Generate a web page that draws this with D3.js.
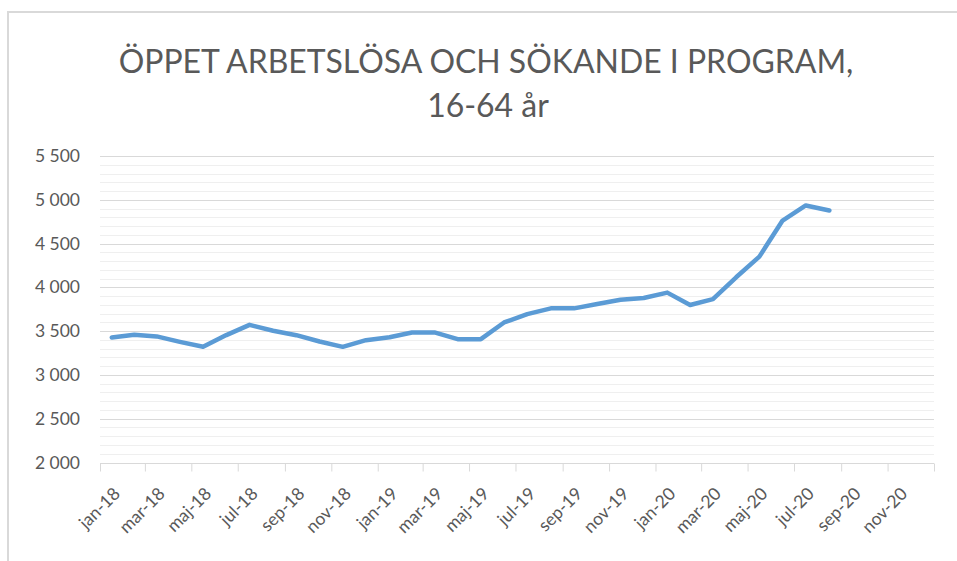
<!DOCTYPE html>
<html>
<head>
<meta charset="utf-8">
<script src="https://cdn.jsdelivr.net/npm/d3@7"></script>
<style>
  html, body { margin: 0; padding: 0; background: #ffffff; }
  svg { display: block; }
</style>
</head>
<body>
<svg id="chart" width="957" height="561"></svg>
<script>
// ---- data ----
const titleLines = ["ÖPPET ARBETSLÖSA OCH SÖKANDE I PROGRAM,", "16-64 år"];
const months = [
  "2018-01","2018-02","2018-03","2018-04","2018-05","2018-06","2018-07","2018-08","2018-09","2018-10","2018-11","2018-12",
  "2019-01","2019-02","2019-03","2019-04","2019-05","2019-06","2019-07","2019-08","2019-09","2019-10","2019-11","2019-12",
  "2020-01","2020-02","2020-03","2020-04","2020-05","2020-06","2020-07","2020-08"
];
const values = [
  3427, 3460, 3440, 3378, 3321, 3455, 3572, 3504, 3454, 3382, 3321, 3397,
  3430, 3485, 3485, 3408, 3408, 3599, 3695, 3760, 3760, 3809, 3859, 3878,
  3940, 3798, 3866, 4115, 4351, 4763, 4935, 4878
];
const tickMonths = [
  "2018-01","2018-03","2018-05","2018-07","2018-09","2018-11",
  "2019-01","2019-03","2019-05","2019-07","2019-09","2019-11",
  "2020-01","2020-03","2020-05","2020-07","2020-09","2020-11"
];
const tickLabels = [
  "jan-18","mar-18","maj-18","jul-18","sep-18","nov-18",
  "jan-19","mar-19","maj-19","jul-19","sep-19","nov-19",
  "jan-20","mar-20","maj-20","jul-20","sep-20","nov-20"
];
const yTicks = [2000, 2500, 3000, 3500, 4000, 4500, 5000, 5500];
const yMinorStep = 100;
const yDomain = [2000, 5500];
const xDomain = ["2018-01", "2021-01"];

// ---- setup ----
const svg = d3.select("#chart");
const W = 957, H = 561;
const plot = { left: 100, right: 934, top: 156, bottom: 462.5 };
const textColor = "#595959";
const fontFamily = "Lato, 'Open Sans', sans-serif";
const labelSize = 17.5;

const parseMonth = d3.timeParse("%Y-%m");
const midMonth = s => {
  const a = parseMonth(s);
  const b = d3.timeMonth.offset(a, 1);
  return new Date((a.getTime() + b.getTime()) / 2);
};

const x = d3.scaleTime()
  .domain(xDomain.map(parseMonth))
  .range([plot.left, plot.right]);
const y = d3.scaleLinear().domain(yDomain).range([plot.bottom, plot.top]);

// chart border
svg.append("rect")
  .attr("x", 8).attr("y", 12)
  .attr("width", W + 10).attr("height", H + 10)
  .attr("fill", "none").attr("stroke", "#d9d9d9").attr("stroke-width", 2);

// title
const title = svg.append("g").attr("font-family", fontFamily).attr("fill", textColor);
const t1 = title.append("text").attr("x", 486).attr("y", 73).attr("text-anchor", "middle")
  .attr("font-size", 31).text(titleLines[0]);
const targetW = 735;
const w1 = t1.node().getComputedTextLength();
const fs = 31 * targetW / w1;
t1.attr("font-size", fs);
title.append("text").attr("x", 488).attr("y", 117).attr("text-anchor", "middle")
  .attr("font-size", fs).text(titleLines[1]);

// minor gridlines
const minorVals = d3.range(yDomain[0] + yMinorStep, yDomain[1], yMinorStep).filter(v => v % 500 !== 0);
svg.append("g").selectAll("line").data(minorVals).join("line")
  .attr("x1", plot.left).attr("x2", plot.right)
  .attr("y1", d => Math.round(y(d)) + 0.5).attr("y2", d => Math.round(y(d)) + 0.5)
  .attr("stroke", "#efefef").attr("stroke-width", 1);

// major gridlines
svg.append("g").selectAll("line").data(yTicks.slice(1)).join("line")
  .attr("x1", plot.left).attr("x2", plot.right)
  .attr("y1", d => Math.round(y(d)) + 0.5).attr("y2", d => Math.round(y(d)) + 0.5)
  .attr("stroke", "#d9d9d9").attr("stroke-width", 1);

// y axis labels
const yAxis = d3.axisLeft(y).tickValues(yTicks).tickSize(0).tickPadding(0)
  .tickFormat(d => d3.format(",")(d).replace(",", " "));
const gy = svg.append("g").attr("transform", `translate(80,0)`).call(yAxis);
gy.select(".domain").remove();
gy.selectAll("text").attr("font-family", fontFamily).attr("font-size", labelSize)
  .attr("fill", textColor);

// x axis line + ticks
const xAxis = d3.axisBottom(x)
  .tickValues(tickMonths.map(parseMonth).concat([parseMonth(xDomain[1])]))
  .tickSize(8).tickFormat("");
const gx = svg.append("g").attr("transform", `translate(0,${Math.round(plot.bottom) + 0.5})`).call(xAxis);
gx.select(".domain").attr("stroke", "#d9d9d9").attr("d", `M${plot.left},0H${plot.right}`);
gx.selectAll(".tick line").attr("stroke", "#d9d9d9");

// x labels (rotated)
svg.append("g").selectAll("text").data(tickMonths).join("text")
  .attr("transform", (d) => `translate(${x(midMonth(d)) + 5},${plot.bottom + 28}) rotate(-45)`)
  .attr("text-anchor", "end")
  .attr("dy", "0.35em")
  .attr("font-family", fontFamily).attr("font-size", labelSize).attr("fill", textColor)
  .text((d, i) => tickLabels[i]);

// line
const line = d3.line()
  .x((d, i) => x(midMonth(months[i])))
  .y(d => y(d));
svg.append("path").datum(values)
  .attr("d", line)
  .attr("fill", "none")
  .attr("stroke", "#5b9bd5")
  .attr("stroke-width", 4.5)
  .attr("stroke-linejoin", "round")
  .attr("stroke-linecap", "round");
</script>
</body>
</html>
